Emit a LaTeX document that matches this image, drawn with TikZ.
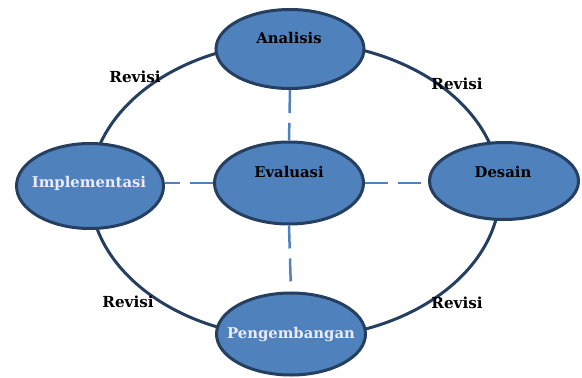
\documentclass[tikz,border=0pt]{standalone}
\usepackage{fontspec}
\setmainfont{DejaVu Serif}
\usetikzlibrary{shapes.geometric}
\definecolor{fillblue}{HTML}{4F81BD}
\definecolor{darkedge}{HTML}{243F60}
\begin{document}
\begin{tikzpicture}[x=1pt,y=-1pt,
  phase/.style={ellipse,draw=darkedge,fill=fillblue,line width=3pt,inner sep=0pt},
  lbl/.style={font=\fontsize{14.8}{16}\selectfont\bfseries,inner sep=0pt,anchor=base},
  revisi/.style={font=\fontsize{15.2}{16}\selectfont\bfseries,inner sep=0pt,anchor=base,text=black},
  link/.style={draw=fillblue,line width=2.5pt,dash pattern=on 23pt off 10pt}]
\useasboundingbox (0,0) rectangle (582,378);
% ring
\draw[darkedge,line width=3pt] (295,190) ellipse [x radius=205, y radius=148];
% phases
\node[phase,minimum width=148pt,minimum height=79pt] (A) at (290,49) {};
\node[phase,minimum width=149pt,minimum height=82pt] (E) at (289,183) {};
\node[phase,minimum width=147pt,minimum height=85pt] (I) at (90,186) {};
\node[phase,minimum width=149pt,minimum height=77pt] (D) at (504,181) {};
\node[phase,minimum width=149pt,minimum height=82pt] (P) at (291,334) {};
% dashed links
\draw[link] (A.south) -- (E.north);
\draw[link] (E.west) -- (I.east |- E.west);
\draw[link] (E.east) -- (D.west |- E.east);
\draw[link] (E.south) -- (P.north);
% labels
\node[lbl,text=black] (tA) at (289,43) {Analisis};
\node[lbl,text=black] (tE) at (289,177) {Evaluasi};
\node[lbl,text=white!92!blue] (tI) at (89,187) {Implementasi};
\node[lbl,text=black] (tD) at (503,177) {Desain};
\node[lbl,text=white!92!blue] (tP) at (291,338) {Pengembangan};
\node[revisi] (r1) at (135,82) {Revisi};
\node[revisi] (r2) at (457,89) {Revisi};
\node[revisi] (r3) at (128,307) {Revisi};
\node[revisi] (r4) at (457,308) {Revisi};
\end{tikzpicture}
\end{document}
